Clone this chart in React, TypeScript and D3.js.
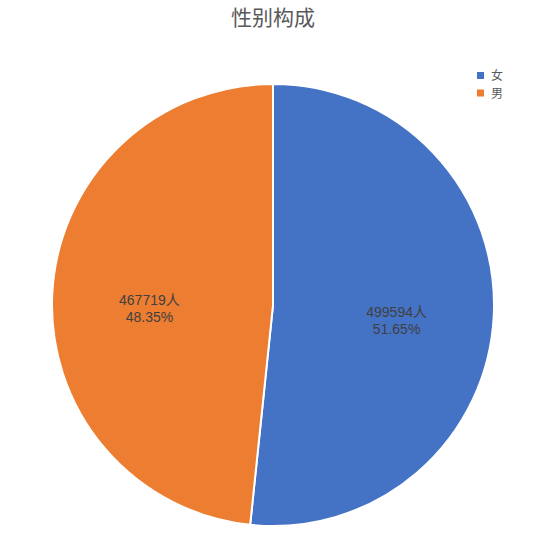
import { useEffect, useRef } from 'react';
import * as d3 from 'd3';

const categories = ['女', '男'];
const counts = [499594, 467719];
const percents = ['51.65%', '48.35%'];
const colors = ['#4472C4', '#ED7D31'];
const title = '性别构成';

const width = 558;
const height = 555;
const font = '"Noto Sans CJK SC", "Noto Sans", sans-serif';
const labelFont = '"Liberation Sans", "Noto Sans CJK SC", sans-serif';

export default function App() {
  const svgRef = useRef<SVGSVGElement>(null);

  useEffect(() => {
    if (!svgRef.current) return;
    const svg = d3.select(svgRef.current);
    svg.selectAll('*').remove();

    svg.append('rect').attr('width', width).attr('height', height).attr('fill', '#ffffff');

    // Title
    svg.append('text')
      .attr('x', width / 2 - 6)
      .attr('y', 25)
      .attr('text-anchor', 'middle')
      .style('font-family', font)
      .style('font-size', '21px')
      .attr('fill', '#595959')
      .text(title);

    const cx = 273;
    const cy = 305;
    const radius = 221;

    const data = categories.map((c, i) => ({ label: c, value: counts[i], pct: percents[i], color: colors[i] }));

    const pie = d3.pie<typeof data[number]>()
      .value(d => d.value)
      .sort(null);

    const arc = d3.arc<d3.PieArcDatum<typeof data[number]>>()
      .innerRadius(0)
      .outerRadius(radius);

    const labelArc = d3.arc<d3.PieArcDatum<typeof data[number]>>()
      .innerRadius(radius * 0.56)
      .outerRadius(radius * 0.56);

    const g = svg.append('g').attr('transform', `translate(${cx},${cy})`);

    const slices = pie(data);

    g.selectAll('path')
      .data(slices)
      .enter().append('path')
      .attr('d', arc)
      .attr('fill', d => d.data.color)
      .attr('stroke', '#ffffff')
      .attr('stroke-width', 2);

    // Data labels
    const labels = g.selectAll('g.label')
      .data(slices)
      .enter().append('g')
      .attr('class', 'label')
      .attr('transform', d => {
        const [x, y] = labelArc.centroid(d);
        return `translate(${x},${y})`;
      });

    labels.append('text')
      .attr('y', 6)
      .attr('text-anchor', 'middle')
      .style('font-family', labelFont)
      .style('font-size', '14px')
      .attr('fill', '#404040')
      .text(d => `${d.data.value}人`);

    labels.append('text')
      .attr('y', 23)
      .attr('text-anchor', 'middle')
      .style('font-family', labelFont)
      .style('font-size', '14px')
      .attr('fill', '#404040')
      .text(d => d.data.pct);

    // Legend
    const legendStep = 17.5;
    const legend = svg.append('g').attr('transform', 'translate(477, 72)');
    data.forEach((d, i) => {
      const item = legend.append('g').attr('transform', `translate(0, ${i * legendStep})`);
      item.append('rect')
        .attr('width', 7)
        .attr('height', 7)
        .attr('fill', d.color);
      item.append('text')
        .attr('x', 14)
        .attr('y', 8)
        .style('font-family', font)
        .style('font-size', '12px')
        .attr('fill', '#595959')
        .text(d.label);
    });
  }, []);

  return (
    <svg
      ref={svgRef}
      width={width}
      height={height}
      style={{ position: 'absolute', left: 0, top: 0 }}
    />
  );
}
